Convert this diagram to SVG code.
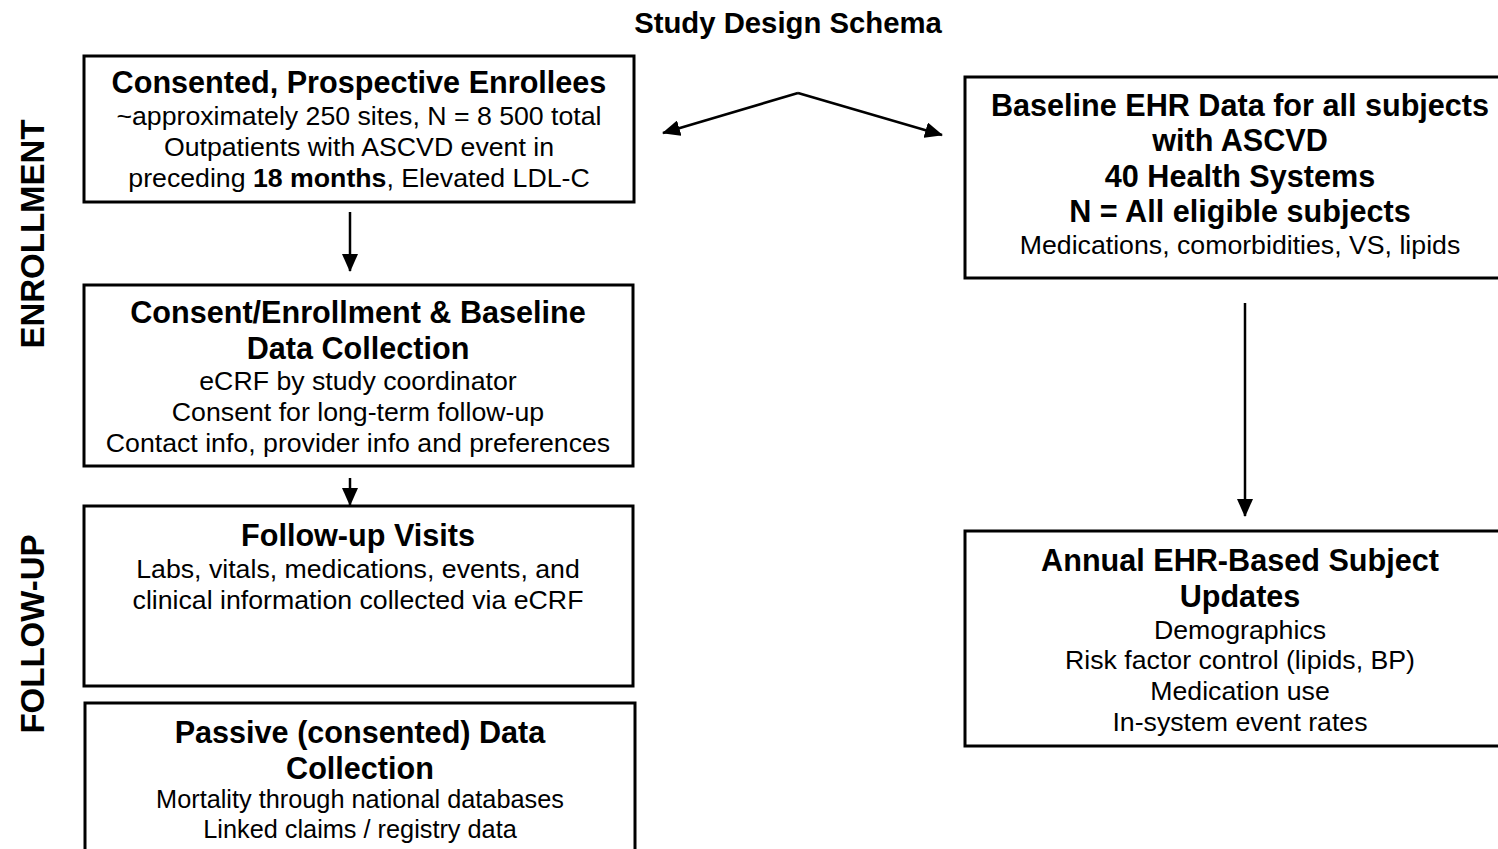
<svg xmlns="http://www.w3.org/2000/svg" width="1498" height="849" viewBox="0 0 1498 849">
<style>
.box{fill:#fff;stroke:#000;stroke-width:3}
.b{font-family:"Liberation Sans",Arial,sans-serif;font-weight:bold;font-size:30.6px;fill:#000;text-anchor:middle}
.r{font-family:"Liberation Sans",Arial,sans-serif;font-size:26.7px;fill:#000;text-anchor:middle}
.side{font-family:"Liberation Sans",Arial,sans-serif;font-weight:bold;font-size:33px;fill:#000;text-anchor:middle}
.conn{fill:none;stroke:#000;stroke-width:2.5}
</style>
<defs>
<marker id="ah" markerUnits="userSpaceOnUse" markerWidth="18" markerHeight="16" refX="17" refY="8" orient="auto">
<path d="M0,0 L18,8 L0,16 Z" fill="#000"/>
</marker>
</defs>
<rect width="1498" height="849" fill="#fff"/>
<text class="b" x="788" y="33" style="font-size:29.3px">Study Design Schema</text>
<text class="side" transform="translate(44,234) rotate(-90)">ENROLLMENT</text>
<text class="side" transform="translate(44,634) rotate(-90)">FOLLOW-UP</text>
<g id="connectors">
<path class="conn" d="M798,93 L663,133" marker-end="url(#ah)"/>
<path class="conn" d="M798,93 L942,135" marker-end="url(#ah)"/>
<path class="conn" d="M350,212 L350,271" marker-end="url(#ah)"/>
<path class="conn" d="M350,478 L350,505" marker-end="url(#ah)"/>
<path class="conn" d="M1245,303 L1245,516" marker-end="url(#ah)"/>
</g>
<g id="enrollees">
<rect class="box" x="84" y="56" width="550" height="146"/>
<text class="b" x="359" y="93">Consented, Prospective Enrollees</text>
<text class="r" x="359" y="125">~approximately 250 sites, N = 8 500 total</text>
<text class="r" x="359" y="156">Outpatients with ASCVD event in</text>
<text class="r" x="359" y="187">preceding <tspan font-weight="bold">18 months</tspan>, Elevated LDL-C</text>
</g>
<g id="consent">
<rect class="box" x="84" y="285" width="549" height="181"/>
<text class="b" x="358" y="323">Consent/Enrollment &amp; Baseline</text>
<text class="b" x="358" y="359">Data Collection</text>
<text class="r" x="358" y="390">eCRF by study coordinator</text>
<text class="r" x="358" y="421">Consent for long-term follow-up</text>
<text class="r" x="358" y="452">Contact info, provider info and preferences</text>
</g>
<g id="followup">
<rect class="box" x="84" y="506" width="549" height="180"/>
<text class="b" x="358" y="546">Follow-up Visits</text>
<text class="r" x="358" y="578">Labs, vitals, medications, events, and</text>
<text class="r" x="358" y="609">clinical information collected via eCRF</text>
</g>
<g id="passive">
<rect class="box" x="85" y="703" width="550" height="160"/>
<text class="b" x="360" y="743">Passive (consented) Data</text>
<text class="b" x="360" y="779">Collection</text>
<text class="r" x="360" y="808" style="font-size:25.3px">Mortality through national databases</text>
<text class="r" x="360" y="838" style="font-size:25.3px">Linked claims / registry data</text>
</g>
<g id="baseline-ehr">
<rect class="box" x="965" y="77" width="550" height="201"/>
<text class="b" x="1240" y="116">Baseline EHR Data for all subjects</text>
<text class="b" x="1240" y="151">with ASCVD</text>
<text class="b" x="1240" y="187">40 Health Systems</text>
<text class="b" x="1240" y="222">N = All eligible subjects</text>
<text class="r" x="1240" y="254">Medications, comorbidities, VS, lipids</text>
</g>
<g id="annual-ehr">
<rect class="box" x="965" y="531" width="550" height="215"/>
<text class="b" x="1240" y="571">Annual EHR-Based Subject</text>
<text class="b" x="1240" y="607">Updates</text>
<text class="r" x="1240" y="639">Demographics</text>
<text class="r" x="1240" y="669">Risk factor control (lipids, BP)</text>
<text class="r" x="1240" y="700">Medication use</text>
<text class="r" x="1240" y="731">In-system event rates</text>
</g>
</svg>
